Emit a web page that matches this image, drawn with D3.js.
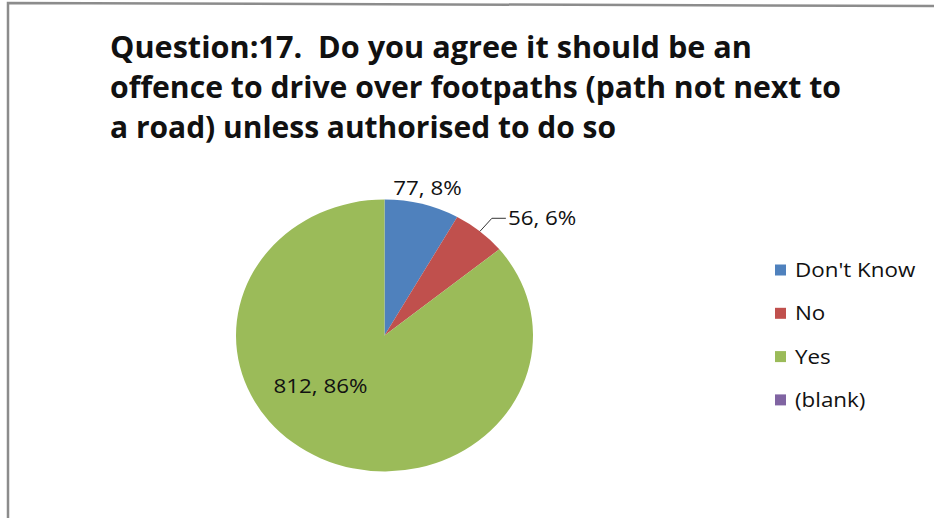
<!DOCTYPE html>
<html>
<head>
<meta charset="utf-8">
<script src="https://d3js.org/d3.v7.min.js"></script>
<style>
  body { margin: 0; background: #fff; }
  svg { display: block; }
  text { font-family: "Liberation Sans Narrow", "Open Sans", "Liberation Sans", sans-serif; fill: #111; white-space: pre; }
</style>
</head>
<body>
<svg width="934" height="518"></svg>
<script>
// survey answers
var categories = ["Don't Know", "No", "Yes", "(blank)"];
var counts = [77, 56, 812, 0];
var colors = ["#4F81BD", "#C0504D", "#9BBB59", "#8064A2"];
var titleLines = [
  "Question:17.  Do you agree it should be an",
  "offence to drive over footpaths (path not next to",
  "a road) unless authorised to do so"
];

var svg = d3.select("svg");

// chart frame (only the top and left edges show in the crop)
svg.append("path")
  .attr("d", "M8,518 L8,3 L934,6")
  .attr("fill", "none")
  .attr("stroke", "#8c8c8c")
  .attr("stroke-width", 2.5);

// title
var titleWidths = [642, 731, 506];
svg.append("g").selectAll("text")
  .data(titleLines)
  .enter().append("text")
    .attr("x", 110)
    .attr("y", function(d, i) { return 58 + i * 40; })
    .attr("font-size", 31)
    .attr("font-weight", "bold")
    .attr("textLength", function(d, i) { return titleWidths[i]; })
    .attr("lengthAdjust", "spacingAndGlyphs")
    .text(function(d) { return d; });

// pie (slightly stretched horizontally like the original)
var cx = 384.5, cy = 335.5, r = 136, sx = 148.5 / 136;
var total = d3.sum(counts);
var data = categories.map(function(c, i) { return {name: c, value: counts[i], color: colors[i]}; });

var pie = d3.pie().sort(null).value(function(d) { return d.value; });
var arcs = pie(data);
var arc = d3.arc().innerRadius(0).outerRadius(r);

var g = svg.append("g").attr("transform", "translate(" + cx + "," + cy + ")");
g.append("g").attr("transform", "scale(" + sx + ",1)")
  .selectAll("path")
  .data(arcs.filter(function(d) { return d.value > 0; }))
  .enter().append("path")
    .attr("d", arc)
    .attr("fill", function(d) { return d.data.color; });

function pt(angle, rad) {
  return [Math.sin(angle) * rad * sx, -Math.cos(angle) * rad];
}
function mid(d) { return (d.startAngle + d.endAngle) / 2; }
function label(d) { return d.value + ", " + Math.round(d.value / total * 100) + "%"; }
function at(x, y) { return "translate(" + x + "," + y + ") scale(" + sx + ",1)"; }

var fs = 20.5;

// Don't Know: above the slice
var a0 = arcs[0], p0 = pt(mid(a0), 152);
g.append("text")
  .attr("transform", at(p0[0] + 1, p0[1] + 7))
  .attr("text-anchor", "middle").attr("font-size", fs)
  .text(label(a0));

// No: outside with leader line
var a1 = arcs[1];
var e1 = pt(mid(a1), r), k1 = pt(mid(a1), r + 17);
g.append("path")
  .attr("d", "M" + e1[0] + "," + e1[1] + "L" + k1[0] + "," + k1[1] + "L" + (k1[0] + 14) + "," + k1[1])
  .attr("fill", "none").attr("stroke", "#333").attr("stroke-width", 1);
g.append("text")
  .attr("transform", at(k1[0] + 16, k1[1] + 7))
  .attr("font-size", fs)
  .text(label(a1));

// Yes: inside the slice
var a2 = arcs[2];
g.append("text")
  .attr("transform", at(-64, 57))
  .attr("text-anchor", "middle").attr("font-size", fs)
  .text(label(a2));

// legend
var legend = svg.append("g").attr("transform", "translate(775,270)");
var item = legend.selectAll("g")
  .data(data)
  .enter().append("g")
    .attr("transform", function(d, i) { return "translate(0," + (i * 43.3) + ")"; });
item.append("rect")
  .attr("x", 0).attr("y", -5.5)
  .attr("width", 11).attr("height", 11)
  .attr("fill", function(d) { return d.color; });
item.append("text")
  .attr("transform", at(20, 7))
  .attr("font-size", fs)
  .text(function(d) { return d.name; });
</script>
</body>
</html>
